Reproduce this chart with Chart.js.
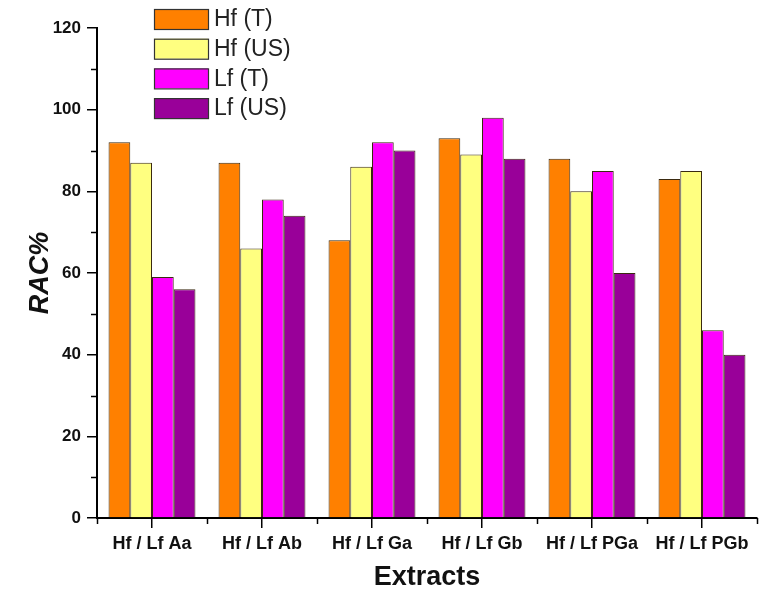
<!DOCTYPE html>
<html>
<head>
<meta charset="utf-8">
<script src="https://cdn.jsdelivr.net/npm/chart.js@4.4.1/dist/chart.umd.min.js"></script>
<style>
  html, body { margin: 0; padding: 0; background: #fff; }
  #wrap { width: 766px; height: 596px; position: relative; }
</style>
</head>
<body>
<div id="wrap"><canvas id="c"></canvas></div>
<script>
/* RAC% per extract — Hf/Lf, T vs US */
const categories = ["Hf / Lf Aa", "Hf / Lf Ab", "Hf / Lf Ga", "Hf / Lf Gb", "Hf / Lf PGa", "Hf / Lf PGb"];
const hfT  = [92, 87, 68, 93, 88, 83];
const hfUS = [87, 66, 86, 89, 80, 85];
const lfT  = [59, 78, 92, 98, 85, 46];
const lfUS = [56, 74, 90, 88, 60, 40];
const yTicks = [0, 20, 40, 60, 80, 100, 120];
const yMinor = [10, 30, 50, 70, 90, 110];

const SERIES = [
  { label: "Hf (T)",  data: hfT,  color: "#ff8000" },
  { label: "Hf (US)", data: hfUS, color: "#ffff80" },
  { label: "Lf (T)",  data: lfT,  color: "#ff00ff" },
  { label: "Lf (US)", data: lfUS, color: "#990099" },
];

const FONT = "'Liberation Sans', Arial, sans-serif";

// minor ticks on y, boundary ticks on x, and the boxed legend top-left
const extras = {
  id: "extras",
  afterDraw(chart) {
    const { ctx, scales: { x, y } } = chart;
    ctx.save();
    ctx.strokeStyle = "#000";
    ctx.lineWidth = 1.5;
    yMinor.forEach((v) => {
      const py = Math.round(y.getPixelForValue(v)) + 0.5;
      ctx.beginPath(); ctx.moveTo(x.left - 6, py); ctx.lineTo(x.left, py); ctx.stroke();
    });
    for (let i = 0; i <= categories.length; i++) {
      const px = Math.round(x.getPixelForValue(i - 0.5)) + 0.5;
      ctx.beginPath(); ctx.moveTo(px, y.bottom); ctx.lineTo(px, y.bottom + 6); ctx.stroke();
    }
    // legend
    ctx.font = `23px ${FONT}`;
    ctx.textBaseline = "middle";
    ctx.textAlign = "left";
    SERIES.forEach((s, i) => {
      const top = 9 + i * 29.7;
      ctx.fillStyle = s.color;
      ctx.fillRect(154, top, 54, 20);
      ctx.strokeStyle = "#333";
      ctx.lineWidth = 1.2;
      ctx.strokeRect(154.5, top + 0.5, 54, 20);
      ctx.fillStyle = "#222";
      ctx.fillText(s.label, 214, top + 11);
    });
    ctx.restore();
  },
};

new Chart(document.getElementById("c"), {
  type: "bar",
  data: {
    labels: categories,
    datasets: SERIES.map((s) => ({
      label: s.label, data: s.data, backgroundColor: s.color,
      borderColor: "#3a2a10", borderWidth: 1, borderSkipped: "bottom",
      barPercentage: 1.0, categoryPercentage: 0.79,
    })),
  },
  options: {
    responsive: true, maintainAspectRatio: false, animation: false,
    layout: { padding: { top: 28, right: 9, left: 0, bottom: 0 } },
    plugins: { legend: { display: false }, tooltip: { enabled: false } },
    scales: {
      x: {
        grid: { display: true, drawOnChartArea: false, offset: false, color: "#000", lineWidth: 1.5, tickLength: 10, tickColor: "#000" },
        border: { display: true, color: "#000", width: 2 },
        ticks: { color: "#111", font: { family: FONT, size: 18, weight: "bold" }, padding: 5, maxRotation: 0, autoSkip: false },
        title: { display: true, text: "Extracts", color: "#111", font: { family: FONT, size: 27, weight: "bold" }, padding: { top: 12, bottom: 2 } },
        afterFit: (s) => { s.height = 78; },
      },
      y: {
        min: 0, max: 120,
        afterBuildTicks: (s) => { s.ticks = yTicks.map((v) => ({ value: v })); },
        grid: { display: true, drawOnChartArea: false, color: "#000", lineWidth: 1.5, tickLength: 10, tickColor: "#000" },
        border: { display: true, color: "#000", width: 2 },
        ticks: { color: "#111", font: { family: FONT, size: 17, weight: "bold" }, padding: 6 },
        title: { display: true, text: "RAC%", color: "#111", font: { family: FONT, size: 27, weight: "bold", style: "italic" }, padding: { top: 24, bottom: 4 } },
        afterFit: (s) => { s.width = 97; },
      },
    },
  },
  plugins: [extras],
});
</script>
</body>
</html>
